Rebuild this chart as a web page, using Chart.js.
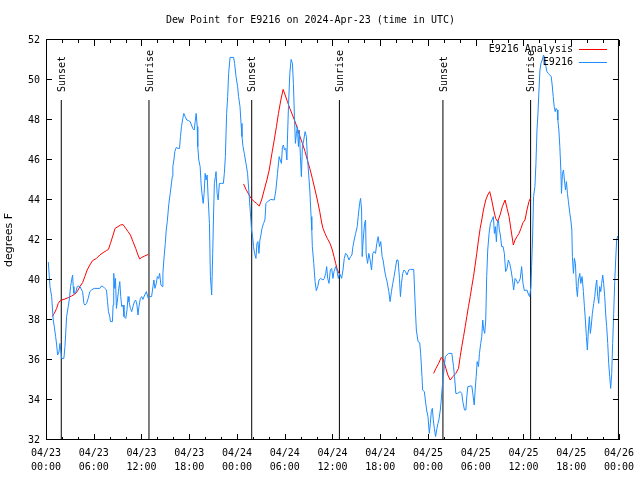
<!DOCTYPE html>
<html>
<head>
<meta charset="utf-8">
<script src="https://cdn.jsdelivr.net/npm/chart.js@4.4.1/dist/chart.umd.min.js"></script>
<style>
  html, body { margin: 0; padding: 0; background: #fff; }
</style>
</head>
<body>
<canvas id="dew" width="640" height="480"></canvas>
<script>
// hours since 04/23 00:00 UTC, dew point in degrees F
const obsReadings = [
  [0.29,40.9],[0.50,39.67],[0.71,39.17],[0.91,38.0],[1.04,37.67],[1.21,37.17],[1.34,36.75],[1.46,36.25],[1.63,36.4],[1.75,36.83],
  [1.97,36.08],[2.25,36.08],[2.38,36.67],[2.50,37.5],[2.59,38.17],[2.79,38.67],[2.92,39.0],[3.09,39.67],[3.22,40.0],[3.34,40.25],
  [3.42,39.67],[3.51,39.33],[3.76,39.4],[3.92,39.67],[4.04,39.7],[4.26,39.67],[4.60,39.42],[4.76,38.83],[4.88,38.75],[5.10,38.83],
  [5.30,39.08],[5.51,39.42],[5.72,39.5],[6.05,39.58],[6.76,39.58],[6.97,39.7],[7.18,39.67],[7.39,39.58],[7.60,39.5],[7.73,38.92],
  [7.85,38.42],[8.01,38.17],[8.10,37.92],[8.35,37.92],[8.43,38.75],[8.51,40.33],[8.64,39.58],[8.73,40.08],[8.85,38.58],[8.98,39.0],
  [9.10,39.42],[9.27,39.92],[9.39,39.17],[9.52,38.67],[9.68,38.75],[9.80,38.17],[10.02,38.08],[10.18,38.5],[10.31,39.17],[10.43,38.92],
  [10.61,38.58],[10.77,38.42],[10.93,38.67],[11.11,38.92],[11.27,39.0],[11.43,38.75],[11.56,38.25],[11.68,38.67],[11.86,39.08],[12.02,39.17],
  [12.18,39.03],[12.40,39.25],[12.61,39.42],[12.73,39.25],[12.86,39.08],[13.02,39.17],[13.27,39.17],[13.44,39.67],[13.56,40.0],[13.69,39.58],
  [13.86,39.83],[13.99,40.17],[14.15,40.08],[14.28,40.33],[14.44,39.75],[14.61,39.67],[14.69,40.33],[14.81,41.0],[14.99,41.83],[15.11,42.5],
  [15.24,42.92],[15.44,43.83],[15.61,44.33],[15.74,44.75],[15.87,45.17],[15.94,45.67],[16.07,46.0],[16.19,46.42],[16.37,46.63],[16.57,46.58],
  [16.78,46.58],[16.90,47.17],[17.03,47.67],[17.19,48.08],[17.32,48.33],[17.49,48.17],[17.69,48.0],[17.91,47.97],[18.12,47.92],[18.28,47.75],
  [18.44,47.58],[18.62,47.5],[18.75,47.92],[18.87,48.33],[19.00,47.67],[19.07,46.67],[19.20,46.0],[19.37,45.67],[19.50,44.75],[19.62,44.25],
  [19.75,43.83],[19.87,44.33],[20.00,45.33],[20.12,45.0],[20.25,45.25],[20.37,44.17],[20.54,42.83],[20.66,40.17],[20.82,39.25],[20.95,41.33],
  [21.04,43.0],[21.16,44.83],[21.29,45.17],[21.37,45.42],[21.50,44.33],[21.63,44.0],[21.79,44.83],[22.04,44.83],[22.29,44.83],[22.41,45.33],
  [22.54,46.17],[22.70,48.33],[22.83,49.17],[22.95,50.33],[23.13,51.13],[23.58,51.13],[23.70,50.83],[23.88,50.17],[24.08,49.67],[24.20,49.17],
  [24.38,48.67],[24.51,47.83],[24.63,47.17],[24.76,46.67],[24.92,46.33],[25.13,45.83],[25.33,45.33],[25.54,44.17],[25.76,42.92],[25.83,42.5],
  [25.96,42.17],[26.08,41.67],[26.21,41.33],[26.38,41.08],[26.51,41.83],[26.63,41.92],[26.76,41.33],[26.88,42.0],[27.01,42.25],[27.14,42.58],
  [27.34,42.83],[27.51,43.0],[27.64,43.83],[27.84,43.92],[28.26,44.03],[28.68,44.0],[28.89,44.5],[29.09,45.33],[29.30,46.17],[29.43,46.0],
  [29.59,45.83],[29.71,46.67],[29.84,46.75],[29.97,46.5],[30.14,46.58],[30.27,46.0],[30.34,47.0],[30.47,48.67],[30.64,50.33],[30.80,51.03],
  [30.97,50.83],[31.09,49.83],[31.22,48.17],[31.34,46.83],[31.47,47.33],[31.59,47.67],[31.72,46.67],[31.84,47.5],[31.97,46.17],[32.09,45.17],
  [32.22,46.67],[32.39,47.0],[32.56,47.42],[32.72,47.17],[32.84,46.17],[32.97,45.5],[33.15,44.5],[33.31,43.17],[33.40,42.5],[33.47,41.67],
  [33.65,40.83],[33.81,39.92],[33.97,39.47],[34.15,39.67],[34.31,40.0],[34.52,40.08],[34.81,40.0],[34.97,40.08],[35.15,40.33],[35.27,40.67],
  [35.40,40.08],[35.56,39.83],[35.73,40.5],[35.90,40.58],[36.06,40.08],[36.19,40.42],[36.40,40.67],[36.56,40.5],[36.73,40.08],[36.90,40.33],
  [37.15,40.08],[37.32,40.5],[37.48,41.08],[37.65,41.33],[37.85,41.25],[38.07,41.0],[38.28,41.17],[38.44,41.25],[38.57,41.67],[38.73,42.0],
  [38.91,42.33],[39.11,42.67],[39.23,43.17],[39.41,43.83],[39.53,44.08],[39.66,43.5],[39.73,41.17],[39.86,42.0],[40.03,42.83],[40.16,43.0],
  [40.23,41.33],[40.41,40.83],[40.57,41.33],[40.73,41.0],[40.91,40.5],[41.07,41.33],[41.23,41.42],[41.41,41.33],[41.57,41.83],[41.74,42.17],
  [41.91,41.67],[42.07,41.92],[42.24,41.17],[42.36,41.0],[42.54,40.5],[42.70,40.17],[42.86,39.92],[43.08,39.42],[43.24,38.92],[43.41,39.42],
  [43.58,39.83],[43.74,40.17],[43.91,40.58],[44.08,41.0],[44.24,41.0],[44.42,40.08],[44.54,39.17],[44.67,39.83],[44.83,40.33],[44.99,40.5],
  [45.17,40.42],[45.37,40.25],[45.58,40.5],[45.79,40.53],[46.21,40.53],[46.42,38.5],[46.54,37.5],[46.75,36.92],[46.96,36.87],[47.08,36.33],
  [47.25,35.17],[47.33,34.5],[47.55,34.42],[47.67,34.0],[47.83,33.5],[48.00,33.17],[48.17,32.33],[48.30,32.83],[48.42,33.42],[48.55,33.58],
  [48.67,33.0],[48.80,32.58],[48.96,32.17],[49.09,32.5],[49.25,32.83],[49.37,33.0],[49.55,33.5],[49.67,34.0],[49.80,34.67],[49.93,35.17],
  [50.05,35.67],[50.18,36.17],[50.38,36.25],[50.59,36.33],[51.00,36.33],[51.21,35.67],[51.34,35.17],[51.50,34.33],[51.72,34.33],[52.05,34.42],
  [52.25,34.33],[52.38,33.92],[52.59,33.5],[52.76,33.5],[52.88,34.17],[53.01,34.67],[53.31,34.7],[53.51,34.7],[53.63,34.33],[53.81,33.75],
  [53.93,34.5],[54.06,35.17],[54.18,35.92],[54.35,35.67],[54.47,36.33],[54.63,36.83],[54.76,37.17],[54.88,38.0],[55.01,37.5],[55.13,37.33],
  [55.26,38.0],[55.38,40.17],[55.51,41.5],[55.68,42.33],[55.85,42.83],[56.22,43.17],[56.35,42.33],[56.47,42.67],[56.60,41.92],[56.72,42.83],
  [56.85,43.0],[56.97,42.5],[57.10,42.25],[57.26,41.67],[57.44,41.67],[57.60,41.33],[57.76,40.42],[57.94,40.58],[58.10,41.0],[58.27,40.83],
  [58.44,40.5],[58.60,40.08],[58.77,39.5],[58.94,40.08],[59.10,40.0],[59.27,39.83],[59.44,39.92],[59.60,40.08],[59.77,40.67],[59.94,39.83],
  [60.11,39.47],[60.44,39.5],[60.61,39.3],[60.77,39.17],[60.94,39.67],[61.02,40.67],[61.14,42.0],[61.27,44.17],[61.44,44.67],[61.57,45.83],
  [61.70,47.5],[61.82,48.33],[61.95,49.5],[62.07,50.5],[62.20,50.83],[62.36,51.0],[62.52,51.25],[62.70,51.08],[62.82,50.67],[62.95,50.42],
  [63.11,50.33],[63.32,50.25],[63.49,50.17],[63.61,49.75],[63.74,49.17],[63.86,48.67],[63.99,48.42],[64.11,48.58],[64.24,48.5],[64.32,48.0],
  [64.45,47.5],[64.57,46.67],[64.70,45.5],[64.78,44.33],[64.90,45.33],[65.03,45.5],[65.15,45.0],[65.28,44.5],[65.40,44.92],[65.53,44.33],
  [65.65,43.92],[65.83,43.33],[65.95,43.0],[66.08,42.5],[66.15,41.17],[66.28,40.33],[66.40,41.08],[66.53,40.83],[66.65,39.67],[66.78,39.17],
  [66.91,40.0],[67.08,40.33],[67.21,39.83],[67.37,40.17],[67.53,39.42],[67.66,38.67],[67.78,38.0],[67.91,37.17],[68.03,36.5],[68.16,37.5],
  [68.28,38.17],[68.41,37.33],[68.53,37.75],[68.66,38.33],[68.83,38.83],[68.96,39.17],[69.08,39.67],[69.21,40.0],[69.33,39.17],[69.46,38.83],
  [69.58,39.67],[69.71,39.42],[69.83,39.83],[69.96,40.25],[70.08,39.83],[70.21,39.17],[70.34,38.25],[70.46,37.67],[70.59,36.83],[70.71,35.83],
  [70.84,35.17],[70.96,34.58],[71.09,35.33],[71.21,36.83],[71.34,38.33],[71.47,39.92],[71.59,41.0],[71.71,42.0],[71.84,42.2]
];

// analysis runs, one per night; null breaks the line between runs
const analysisReadings = [
  [0.79,38.17],[1.04,38.33],[1.34,38.58],[1.54,38.83],[1.75,38.95],[1.97,39.0],[2.38,39.05],[2.79,39.12],[3.22,39.2],[3.63,39.3],
  [3.92,39.42],[4.26,39.67],[4.60,39.87],[4.88,40.17],[5.17,40.5],[5.51,40.75],[5.85,40.97],[6.35,41.08],[6.76,41.25],[7.18,41.37],
  [7.60,41.47],[7.85,41.53],[8.10,41.83],[8.43,42.25],[8.68,42.58],[9.05,42.67],[9.35,42.75],[9.68,42.77],[10.02,42.58],[10.31,42.42],
  [10.61,42.25],[10.93,41.92],[11.27,41.58],[11.56,41.25],[11.77,41.05],[11.98,41.12],[12.40,41.2],[12.86,41.28],
  [18,null],
  [24.83,44.8],[25.13,44.53],[25.46,44.3],[25.76,44.08],[26.17,43.92],[26.46,43.83],[26.80,43.7],[27.09,44.0],[27.42,44.5],[27.76,45.0],
  [28.05,45.5],[28.39,46.33],[28.68,47.0],[28.96,47.67],[29.21,48.33],[29.51,49.0],[29.80,49.53],[30.05,49.25],[30.34,48.92],[30.64,48.58],
  [30.97,48.25],[31.30,47.92],[31.59,47.58],[31.89,47.2],[32.22,46.83],[32.56,46.42],[32.84,46.0],[33.15,45.58],[33.47,45.08],[33.81,44.5],
  [34.10,44.0],[34.40,43.42],[34.65,42.85],[34.81,42.58],[35.06,42.33],[35.35,42.08],[35.69,41.83],[35.98,41.5],[36.19,41.17],[36.40,40.83],
  [36.56,40.58],[36.81,40.33],
  [42,null],
  [48.71,35.33],[49.00,35.58],[49.34,35.83],[49.67,36.13],[49.96,36.0],[50.25,35.58],[50.50,35.25],[50.80,35.0],[51.13,35.17],[51.50,35.33],
  [51.84,35.58],[52.05,36.17],[52.25,36.67],[52.47,37.17],[52.68,37.67],[52.88,38.17],[53.09,38.67],[53.31,39.17],[53.51,39.67],[53.72,40.17],
  [53.93,40.75],[54.13,41.33],[54.35,42.0],[54.56,42.58],[54.76,43.0],[54.97,43.5],[55.26,44.0],[55.51,44.25],[55.76,44.42],[56.01,44.0],
  [56.26,43.5],[56.51,43.08],[56.76,42.92],[57.06,43.25],[57.35,43.67],[57.69,44.0],[57.94,43.58],[58.19,43.17],[58.44,42.5],[58.73,41.75],
  [58.94,42.0],[59.19,42.17],[59.44,42.33],[59.69,42.58],[59.94,42.87],[60.19,43.0],[60.44,43.5],[60.69,43.92],[60.86,44.08]
];

const sunTimes = [1.92, 12.94, 25.85, 36.87, 49.88, 60.9];
const sunNames = ['Sunset', 'Sunrise', 'Sunset', 'Sunrise', 'Sunset', 'Sunrise'];
const sunLineTop = 49;

const xTickLabels = [
  ['04/23', '00:00'], ['04/23', '06:00'], ['04/23', '12:00'], ['04/23', '18:00'],
  ['04/24', '00:00'], ['04/24', '06:00'], ['04/24', '12:00'], ['04/24', '18:00'],
  ['04/25', '00:00'], ['04/25', '06:00'], ['04/25', '12:00'], ['04/25', '18:00'],
  ['04/26', '00:00']
];

const MONO = "'DejaVu Sans Mono', monospace";
Chart.defaults.color = '#000';
Chart.defaults.font.family = MONO;
Chart.defaults.font.size = 10;

function toPoints(rows) {
  return rows.map(r => ({ x: r[0], y: r[1] }));
}

function sunPoints() {
  const pts = [];
  sunTimes.forEach(t => {
    pts.push({ x: t, y: 32 }, { x: t, y: sunLineTop }, { x: t, y: null });
  });
  return pts;
}

// gnuplot style frame, inward ticks, sun labels and key
const gnuFrame = {
  id: 'gnuFrame',
  afterDatasetsDraw(chart) {
    const { ctx, chartArea: a, scales: { x, y } } = chart;
    ctx.save();
    ctx.strokeStyle = '#000';
    ctx.lineWidth = 1;
    ctx.strokeRect(a.left + 0.5, a.top - 0.5, a.right - a.left - 1, a.bottom - a.top);
    ctx.beginPath();
    x.ticks.forEach(t => {
      const px = Math.round(x.getPixelForValue(t.value)) + 0.5;
      const len = t.value % 6 === 0 ? 6 : 3;
      ctx.moveTo(px, a.bottom); ctx.lineTo(px, a.bottom - len);
      ctx.moveTo(px, a.top); ctx.lineTo(px, a.top + len);
    });
    y.ticks.forEach(t => {
      const py = Math.round(y.getPixelForValue(t.value)) - 0.5;
      ctx.moveTo(a.left, py); ctx.lineTo(a.left + 6, py);
      ctx.moveTo(a.right, py); ctx.lineTo(a.right - 6, py);
    });
    ctx.stroke();

    ctx.fillStyle = '#000';
    ctx.font = '10px ' + MONO;
    sunTimes.forEach((t, i) => {
      ctx.save();
      ctx.translate(x.getPixelForValue(t) + 1, y.getPixelForValue(sunLineTop) - 8);
      ctx.rotate(-Math.PI / 2);
      ctx.textAlign = 'left';
      ctx.textBaseline = 'middle';
      ctx.fillText(sunNames[i], 0, 0);
      ctx.restore();
    });

    // key, top right inside the frame
    const keyOrder = [1, 0];
    keyOrder.forEach((di, row) => {
      const ds = chart.data.datasets[di];
      const ly = a.top + 9.5 + row * 13;
      ctx.textAlign = 'right';
      ctx.textBaseline = 'middle';
      ctx.fillStyle = '#000';
      ctx.fillText(ds.label, a.right - 46, ly);
      ctx.strokeStyle = ds.borderColor;
      ctx.beginPath();
      ctx.moveTo(a.right - 40, ly);
      ctx.lineTo(a.right - 12, ly);
      ctx.stroke();
    });
    ctx.restore();
  }
};

new Chart(document.getElementById('dew'), {
  type: 'line',
  data: {
    datasets: [
      { label: 'E9216', data: toPoints(obsReadings), borderColor: '#1e8cff', borderWidth: 1, pointRadius: 0, tension: 0 },
      { label: 'E9216 Analysis', data: toPoints(analysisReadings), borderColor: '#ff0000', borderWidth: 1, pointRadius: 0, tension: 0, spanGaps: false },
      { label: 'sun', data: sunPoints(), borderColor: '#000', borderWidth: 1, pointRadius: 0, spanGaps: false }
    ]
  },
  plugins: [gnuFrame],
  options: {
    responsive: false,
    animation: false,
    layout: { padding: { left: 0, right: 19, top: 0, bottom: 0 } },
    plugins: {
      legend: { display: false },
      tooltip: { enabled: false },
      title: {
        display: true,
        text: 'Dew Point for E9216 on 2024-Apr-23 (time in UTC)',
        color: '#000',
        font: { family: MONO, size: 10, weight: 'normal' },
        padding: { top: 14, bottom: 14 }
      }
    },
    scales: {
      x: {
        type: 'linear',
        min: 0,
        max: 72,
        grid: { display: false, drawTicks: false },
        border: { display: false },
        afterFit: s => { s.height = 40; },
        ticks: {
          stepSize: 2,
          autoSkip: false,
          maxRotation: 0,
          padding: 6,
          font: { family: MONO, size: 10, lineHeight: 1.4 },
          callback: v => (v % 6 === 0 ? xTickLabels[v / 6] : '')
        }
      },
      y: {
        min: 32,
        max: 52,
        grid: { display: false, drawTicks: false },
        border: { display: false },
        afterFit: s => { s.width = 46; },
        ticks: { stepSize: 2, padding: 6, font: { family: MONO, size: 10 } },
        title: {
          display: true,
          text: 'degrees F',
          color: '#000',
          font: { family: "'DejaVu Sans', sans-serif", size: 11 },
          padding: { top: 3, bottom: 0 }
        }
      }
    }
  }
});
</script>
</body>
</html>
